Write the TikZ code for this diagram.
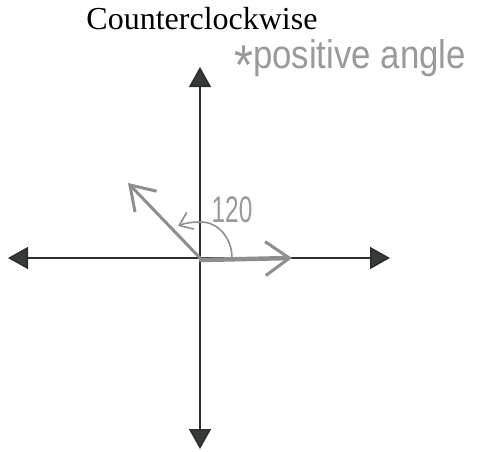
\documentclass[tikz,border=0pt]{standalone}
\usepackage{fontspec}
\setmainfont{Liberation Serif}
\newfontfamily\handfont{Liberation Sans}
\usetikzlibrary{arrows.meta}
\definecolor{axisc}{HTML}{2E2E2E}
\definecolor{headc}{HTML}{363B3A}
\definecolor{pencil}{HTML}{8E8E8E}
\definecolor{pencilt}{HTML}{9A9A9A}
\tikzset{
  axisline/.style={draw=axisc, line width=1.6pt, -{Triangle[width=22pt,length=20pt,fill=headc]}},
  ray/.style={draw=pencil, line width=3pt, line cap=round, line join=round},
  hand/.style={text=pencilt, font=\handfont, inner sep=0pt},
}
\begin{document}
\begin{tikzpicture}[x=1pt,y=-1pt]
\useasboundingbox (0,0) rectangle (479,452);
\fill[white] (0,0) rectangle (479,452);
% axes
\coordinate (O) at (200,258);
\coordinate (O2) at (201,260);
\coordinate (L) at (8,258);
\coordinate (R) at (390,258);
\coordinate (T) at (200,67);
\coordinate (B) at (200,449);
\draw[axisline] (O) -- (L);
\draw[axisline] (O) -- (R);
\draw[axisline] (O) -- (T);
\draw[axisline] (O) -- (B);
% title
\node[anchor=base, font=\fontsize{32}{36}\selectfont, inner sep=0pt] (title) at (202,30) {Counterclockwise};
\node[hand, anchor=base west, font=\handfont\fontsize{40}{44}\selectfont, xscale=0.87] (note) at (234,68) {\raisebox{-0.42em}{\fontsize{56}{56}\selectfont *}positive angle};
% initial ray
\coordinate (Ri) at (292,258);
\draw[ray, -{Straight Barb[length=24pt,width=34pt,line width=3pt]}, line width=4.5pt] (O2) -- (Ri);
% terminal ray
\coordinate (P) at (128,183);
\draw[ray, -{Straight Barb[length=23pt,width=30pt,line width=3pt]}] (O) -- (P);
% angle arc
\coordinate (A0) at (232,258);
\coordinate (A1) at (178,226);
\draw[draw=pencil, line width=1.6pt, line cap=round, -{Straight Barb[length=12pt,width=18pt,line width=1.6pt]}]
  (A0) .. controls (232,238) and (218,222) .. (201,222) .. controls (192,222) and (185,223) .. (A1);
\node[hand, font=\handfont\fontsize{37}{40}\selectfont, xscale=0.66, anchor=base] (ang) at (232,222) {120};
\end{tikzpicture}
\end{document}
